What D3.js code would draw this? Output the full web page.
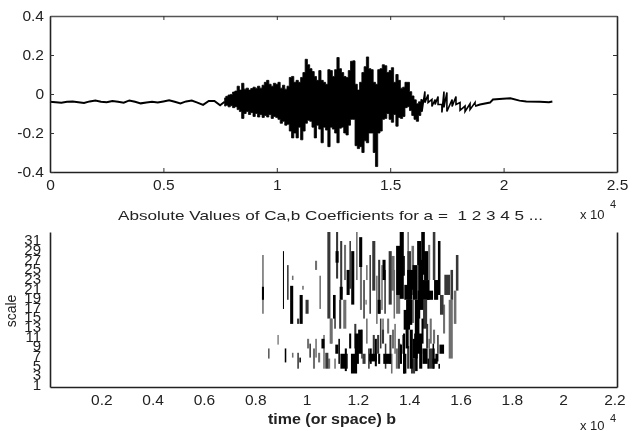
<!DOCTYPE html>
<html>
<head>
<meta charset="utf-8">
<script src="https://cdn.jsdelivr.net/npm/d3@7"></script>
<style>
  html, body { margin: 0; padding: 0; background: #fff; }
  svg { display: block; filter: blur(0.35px); }
  text { font-family: "Liberation Sans", Arial, sans-serif; fill: #222; }
</style>
</head>
<body>
<div id="container"></div>
<script>
/**
 * DATA (b values in units of 10^4 samples)
 * */
const waveTicks = [0, 0.5, 1, 1.5, 2, 2.5];
const ampTicks = [-0.4, -0.2, 0, 0.2, 0.4];
const timeTicks = [0.2, 0.4, 0.6, 0.8, 1, 1.2, 1.4, 1.6, 1.8, 2, 2.2];
const scaleTicks = d3.range(1, 32, 2);

// quiet start of the signal
const headB = [0, .025, .05, .075, .1, .125, .15, .175, .2, .225, .25, .275, .3, .325, .35, .375, .4, .425, .45, .475, .5, .525, .55, .575, .6, .625, .65, .675, .7, .725, .75, .77];
const headV = [-.04, -.042, -.045, -.04, -.038, -.042, -.046, -.038, -.034, -.04, -.042, -.036, -.04, -.045, -.033, -.04, -.048, -.044, -.04, -.044, -.038, -.032, -.04, -.048, -.038, -.034, -.044, -.056, -.036, -.036, -.058, -.04];

// loud middle part, upper and lower swing every 0.01 from b = 0.77
const bodyHigh = [-.02, -.012, -.005, -.002, .01, .015, .04, .02, .055, .025, .03, .02, .028, .035, .03, .04, .03, .045, .06, .07, .05, .04, .055, .05, .06, .03, .045, .025, .04, .085, .09, .06, .07, .06, .085, .11, .178, .15, .13, .115, .09, .07, .12, .07, .06, .05, .125, .12, .09, .125, .187, .13, .11, .09, .085, .12, .168, .17, .05, .02, .06, .11, .14, .19, .13, .125, .06, .05, .125, .13, .15, .145, .11, .12, .135, .06, .1, .07, .03, .035, .06, .06, .012, -.01, -.03, -.05, -.04, -.028];
const bodyLow = [-.062, -.058, -.066, -.06, -.07, -.065, -.08, -.09, -.125, -.1, -.09, -.105, -.095, -.115, -.1, -.118, -.105, -.12, -.11, -.118, -.105, -.125, -.115, -.12, -.13, -.15, -.14, -.16, -.155, -.19, -.225, -.2, -.225, -.17, -.235, -.19, -.15, -.135, -.14, -.17, -.225, -.16, -.18, -.25, -.17, -.185, -.27, -.17, -.18, -.2, -.25, -.175, -.17, -.2, -.21, -.16, -.13, -.13, -.265, -.28, -.27, -.3, -.24, -.25, -.2, -.2, -.3, -.372, -.2, -.19, -.13, -.125, -.1, -.13, -.145, -.105, -.165, -.12, -.125, -.115, -.07, -.065, -.085, -.11, -.13, -.14, -.11, -.09];

// ripples as the signal dies out
const rippleB = [1.64, 1.653, 1.667, 1.684, 1.698, 1.711, 1.728, 1.737, 1.75, 1.773, 1.79, 1.808, 1.83, 1.852, 1.874];
const rippleHigh = [-.028, .013, -.003, -.028, -.028, -.013, -.054, .013, .008, -.028, -.013, -.044, -.062, -.05, -.044];
const rippleLow = [-.09, -.044, -.044, -.064, -.054, -.054, -.095, -.069, -.09, -.064, -.054, -.084, -.09, -.08, -.056];

// quiet tail
const tailB = [1.874, 1.896, 1.94, 1.953, 1.997, 2.03, 2.07, 2.1, 2.16, 2.2, 2.215];
const tailV = [-.062, -.054, -.044, -.028, -.024, -.022, -.034, -.038, -.04, -.042, -.038];

// large coefficients: [b, b width, scale low, scale high, level]
const coefCells = [
  [.83, .006, 15.7, 27.9, .5], [.83, .008, 18.6, 21.3, 1], [.91, .004, 16.7, 28.7, 1], [.927, .006, 18.6, 25.8, .75],
  [.946, .006, 22.7, 23.6, .5], [.942, .012, 13.6, 21.5, 1], [.986, .006, 20.7, 21.5, .5], [.979, .012, 13.6, 19.6, 1],
  [.967, .008, 13.6, 14.7, .75], [1.002, .012, 15.7, 18.6, .75], [1.037, .008, 24.8, 26.7, .5], [1.053, .006, 16.7, 23.6, .5],
  [1.087, .012, 14.7, 32.67, .75], [1.096, .012, 9.5, 14.7, .5], [1.107, .008, 14.7, 19.6, 1],
  [.889, .005, 9.3, 11.3, .5], [.853, .005, 6.4, 8.5, .75], [.918, .006, 5.6, 8.5, 1], [.946, .006, 6.6, 7.6, .5],
  [.967, .006, 4.3, 7.6, .75], [.975, .006, 5.6, 6.6, 1], [1.006, .008, 8.5, 10.5, .5], [1.014, .006, 6.6, 9.5, .75],
  [1.029, .008, 4.3, 8.5, .5], [1.037, .006, 6.6, 10.5, .5], [1.049, .008, 5.6, 7.6, .5], [1.064, .012, 8.5, 10.5, 1],
  [1.068, .006, 4.3, 11.3, .5], [1.079, .012, 4.3, 7.6, .75], [1.088, .008, 4.3, 6.4, .5],
  [1.119, .008, 23, 32.67, .75], [1.119, .012, 26.3, 28.7, 1], [1.135, .008, 19.6, 30.8, .75], [1.15, .008, 22.7, 30, .5],
  [1.135, .012, 18.6, 21.3, 1], [1.17, .006, 20.9, 30.8, .75], [1.162, .012, 19.6, 24.8, 1], [1.18, .012, 17.6, 28.7, 1],
  [1.196, .006, 22.7, 32.67, .5], [1.211, .012, 25.4, 31.6, 1], [1.212, .008, 16.5, 25.4, .5], [1.235, .006, 22.7, 25.8, .5],
  [1.232, .005, 17.6, 18.6, .5], [1.248, .006, 15.7, 27.9, .75], [1.262, .012, 20.5, 30.8, .75], [1.283, .008, 15.7, 26.9, .75],
  [1.283, .012, 15.7, 18.6, 1], [1.274, .006, 13.6, 23.6, .5], [1.302, .012, 22.7, 26.9, 1], [1.294, .006, 16.5, 25.8, .5],
  [1.326, .012, 17.6, 28.7, .75], [1.337, .012, 20.5, 27.7, .5], [1.357, .016, 19.6, 29.8, 1], [1.357, .016, 15.7, 19.6, .5],
  [1.371, .016, 18.8, 32.67, 1], [1.38, .006, 23.6, 27.7, 1], [1.111, .006, 12.6, 19.6, .75], [1.096, .006, 9.5, 14.7, .5],
  [1.131, .008, 12.6, 18.6, .75], [1.149, .012, 12.6, 18.6, .5], [1.118, .012, 7.4, 9.3, 1], [1.111, .006, 4.3, 6.4, .5],
  [1.142, .02, 4.3, 7.4, 1], [1.157, .008, 4.3, 7.4, .75], [1.17, .008, 8.5, 11.6, 1], [1.185, .024, 3.3, 7.4, 1],
  [1.196, .016, 5.3, 11.6, 1], [1.209, .016, 7.4, 12.4, 1], [1.224, .012, 5.3, 7.4, .75], [1.235, .006, 9.5, 14.7, .5],
  [1.25, .008, 5.3, 8.5, 1], [1.262, .008, 6.4, 11.3, .75], [1.259, .03, 5.8, 7.4, 1], [1.279, .008, 7.4, 11.3, .75],
  [1.298, .008, 9.5, 12.4, .75], [1.283, .008, 5.3, 7.4, 1], [1.314, .03, 5.3, 7.4, 1], [1.332, .006, 3.3, 7.4, .5],
  [1.337, .008, 8.5, 12.4, .5], [1.352, .008, 4.3, 8.5, .5], [1.365, .008, 6.4, 9.5, .5], [1.38, .008, 3.3, 11.6, 1],
  [1.318, .008, 11.6, 14.7, .5], [1.298, .006, 11.6, 14.7, .5],
  [1.376, .006, 23.6, 27.7, .5], [1.396, .006, 21.7, 32.67, .5], [1.4, .014, 18.6, 28.7, .75], [1.414, .01, 19.6, 29.8, .5],
  [1.396, .03, 18.6, 21.7, 1], [1.404, .024, 20.7, 24.8, 1], [1.391, .025, 12.4, 16.5, 1], [1.4, .024, 13.4, 18.6, 1],
  [1.423, .02, 18.6, 25.8, 1], [1.415, .008, 13.8, 18.6, .5], [1.439, .016, 25.8, 30.8, 1], [1.431, .018, 8.5, 18.6, 1],
  [1.454, .014, 23.8, 32.67, 1], [1.462, .035, 18.6, 22.7, 1], [1.445, .02, 16.5, 26.9, 1], [1.466, .016, 22.7, 28.7, 1],
  [1.478, .008, 22.7, 30, .5], [1.497, .01, 22.7, 32.67, .75], [1.505, .016, 18.6, 22.7, 1], [1.517, .01, 19.6, 30.8, 1],
  [1.481, .024, 18.6, 20.5, 1], [1.462, .016, 12.6, 18.6, .75], [1.484, .008, 9.5, 14.7, .5], [1.497, .008, 9.5, 12.4, .5],
  [1.527, .014, 15.5, 19.6, .75], [1.536, .008, 11.6, 17.6, .5], [1.527, .018, 7.4, 9.3, 1], [1.548, .022, 19.6, 23.8, .75],
  [1.566, .01, 18.6, 24.8, .75], [1.562, .016, 6.4, 18.6, .5], [1.579, .01, 13.6, 20.5, .5], [1.587, .01, 20.5, 27.9, .75],
  [1.368, .008, 5.3, 9.3, 1], [1.383, .012, 3.3, 7.4, 1], [1.396, .008, 4.3, 9, .75], [1.415, .016, 3.3, 6.4, .75],
  [1.423, .02, 6.4, 10.5, 1], [1.435, .031, 7.4, 11.6, 1], [1.445, .012, 4.3, 8.5, 1], [1.462, .02, 5.3, 8.5, 1],
  [1.474, .006, 4.3, 6.4, 1], [1.488, .024, 4.3, 8.5, .75], [1.501, .02, 5.3, 6.4, 1], [1.508, .012, 5.8, 7.4, 1],
  [1.517, .006, 4.3, 5.3, 1], [1.478, .006, 8.5, 10.5, .5], [1.376, .008, 7.4, 11.3, .5],
  // dark streaks in the low scales and between the two bands
  [1.127, .006, 5.3, 10.5, 1], [1.153, .008, 3.8, 8.5, 1], [1.19, .008, 8.5, 13.6, .75], [1.216, .006, 6.4, 12.4, .75],
  [1.243, .006, 4.3, 8.5, .75], [1.27, .008, 4.8, 10.5, 1], [1.289, .006, 8.5, 14.7, .75], [1.308, .006, 4.3, 9.5, .75],
  [1.327, .008, 5.3, 11.3, .75], [1.345, .006, 7.4, 13.6, .5], [1.36, .008, 4.3, 10.5, .75], [1.392, .012, 8.5, 13.6, 1],
  [1.408, .012, 4.3, 12.4, 1], [1.428, .01, 3.8, 8.5, 1], [1.452, .008, 9.5, 14.7, 1], [1.47, .008, 8.5, 13.6, .75],
  [1.494, .006, 4.3, 9.5, 1], [1.512, .006, 7.4, 11.3, .75], [1.438, .01, 14.7, 20.5, 1], [1.224, .006, 14.7, 22.7, .75],
  [1.342, .006, 14.7, 24.8, .5], [1.306, .006, 15.7, 24.8, .75]
];

const width = 639,
  height = 431,
  waveBox = { left: 50, right: 617, top: 16, bottom: 172 },
  coefBox = { left: 50, right: 617, top: 232, bottom: 387 };

const svg = d3.select("#container")
  .append("svg")
  .attr("width", width)
  .attr("height", height);

/**
 * TOP PANEL: the signal
 * */
const xWave = d3.scaleLinear().domain([0, 2.5]).range([waveBox.left, waveBox.right]);
const yWave = d3.scaleLinear().domain([-0.4, 0.4]).range([waveBox.bottom, waveBox.top]);

const quietLine = d3.line().x(d => xWave(d[0])).y(d => yWave(d[1]));
const swingArea = d3.area()
  .x(d => xWave(d.b))
  .y0(d => yWave(d.low))
  .y1(d => yWave(d.high));

svg.append("path")
  .attr("d", quietLine(d3.zip(headB, headV)))
  .attr("fill", "none").attr("stroke", "#000").attr("stroke-width", 2);
svg.append("path")
  .attr("d", quietLine(d3.zip(tailB, tailV)))
  .attr("fill", "none").attr("stroke", "#000").attr("stroke-width", 2);

const body = bodyHigh.map((high, i) => ({ b: 0.77 + i * 0.01, high, low: bodyLow[i] }));
svg.append("path")
  .attr("d", swingArea.curve(d3.curveStep)(body))
  .attr("fill", "#000").attr("stroke", "#000").attr("stroke-width", 0.8);

const ripple = rippleB.map((b, i) => ({ b, high: rippleHigh[i], low: rippleLow[i] }));
svg.append("path")
  .attr("d", quietLine(ripple.flatMap(d => [[d.b, d.high], [d.b, d.low]])))
  .attr("fill", "none").attr("stroke", "#000").attr("stroke-width", 1.6);

function boxAxes(x, y, box, xTicks, yTicks, xFmt, yFmt, tickLen, yPad, ySize) {
  const g = svg.append("g");
  g.append("g").attr("class", "x-axis").attr("transform", `translate(0,${box.bottom})`)
    .call(d3.axisBottom(x).tickValues(xTicks).tickFormat(xFmt).tickSizeInner(-tickLen).tickSizeOuter(0).tickPadding(7));
  g.append("g").attr("class", "y-axis").attr("transform", `translate(${box.left},0)`)
    .call(d3.axisLeft(y).tickValues(yTicks).tickFormat(yFmt).tickSizeInner(-tickLen).tickSizeOuter(0).tickPadding(yPad));
  g.append("g").attr("transform", `translate(${box.right},0)`)
    .call(d3.axisRight(y).tickValues(yTicks).tickFormat("").tickSizeInner(-tickLen).tickSizeOuter(0));
  g.selectAll("text").style("font-family", null);
  g.selectAll(".x-axis text").attr("font-size", 15.5);
  g.selectAll(".y-axis text").attr("font-size", ySize);
  g.selectAll(".domain").attr("stroke", "#222").attr("stroke-width", 1.6);
  g.selectAll(".tick line").attr("stroke", "#333");
  return g;
}

const waveAxes = boxAxes(xWave, yWave, waveBox, waveTicks, ampTicks,
  d => d, d => d === 0 ? "0" : d3.format(".1f")(d).replace("−", "-"), 4, 6, 15.5);
waveAxes.append("g").attr("transform", `translate(0,${waveBox.top})`)
  .call(d3.axisTop(xWave).tickValues(waveTicks).tickFormat("").tickSizeInner(-4).tickSizeOuter(0))
  .call(g => g.select(".domain").attr("stroke", "#555").attr("stroke-width", 1.4))
  .call(g => g.selectAll(".tick line").attr("stroke", "#333"));

/**
 * BOTTOM PANEL: coefficients
 * */
const xCoef = d3.scaleLinear().domain([0, 2.21]).range([coefBox.left, coefBox.right]);
const yCoef = d3.scaleLinear().domain([0.5, 32.67]).range([coefBox.bottom, coefBox.top]);
const shade = d3.scaleLinear().domain([0, 1]).range(["#ddd", "#000"]);

svg.append("g")
  .selectAll("rect")
  .data(d3.sort(coefCells, d => d[4]))
  .join("rect")
  .attr("x", d => xCoef(d[0] - d[1] / 2))
  .attr("width", d => xCoef(d[1]) - xCoef(0))
  .attr("y", d => yCoef(d[3]))
  .attr("height", d => yCoef(d[2]) - yCoef(d[3]))
  .attr("fill", d => shade(d[4]));

boxAxes(xCoef, yCoef, coefBox, timeTicks, scaleTicks, d => d, d => d, 0, 9, 15);

/**
 * LABELS
 * */
function label(x, y, str, size, anchor) {
  return svg.append("text")
    .attr("x", x).attr("y", y)
    .attr("font-size", size)
    .attr("text-anchor", anchor || "start")
    .text(str);
}

label(118, 220, "Absolute Values of Ca,b Coefficients for a =\u00a0\u00a01\u00a02\u00a03\u00a04\u00a05\u00a0...", 13)
  .attr("textLength", 425).attr("lengthAdjust", "spacingAndGlyphs");
label(580, 219, "x 10", 13);
label(610, 208, "4", 11);
label(580, 430, "x 10", 13);
label(610, 422, "4", 11);
label(268, 424, "time (or space) b", 14)
  .attr("font-weight", "bold")
  .attr("textLength", 128).attr("lengthAdjust", "spacingAndGlyphs");
label(0, 0, "scale", 14, "middle").attr("transform", "translate(16,311) rotate(-90)");
</script>
</body>
</html>
